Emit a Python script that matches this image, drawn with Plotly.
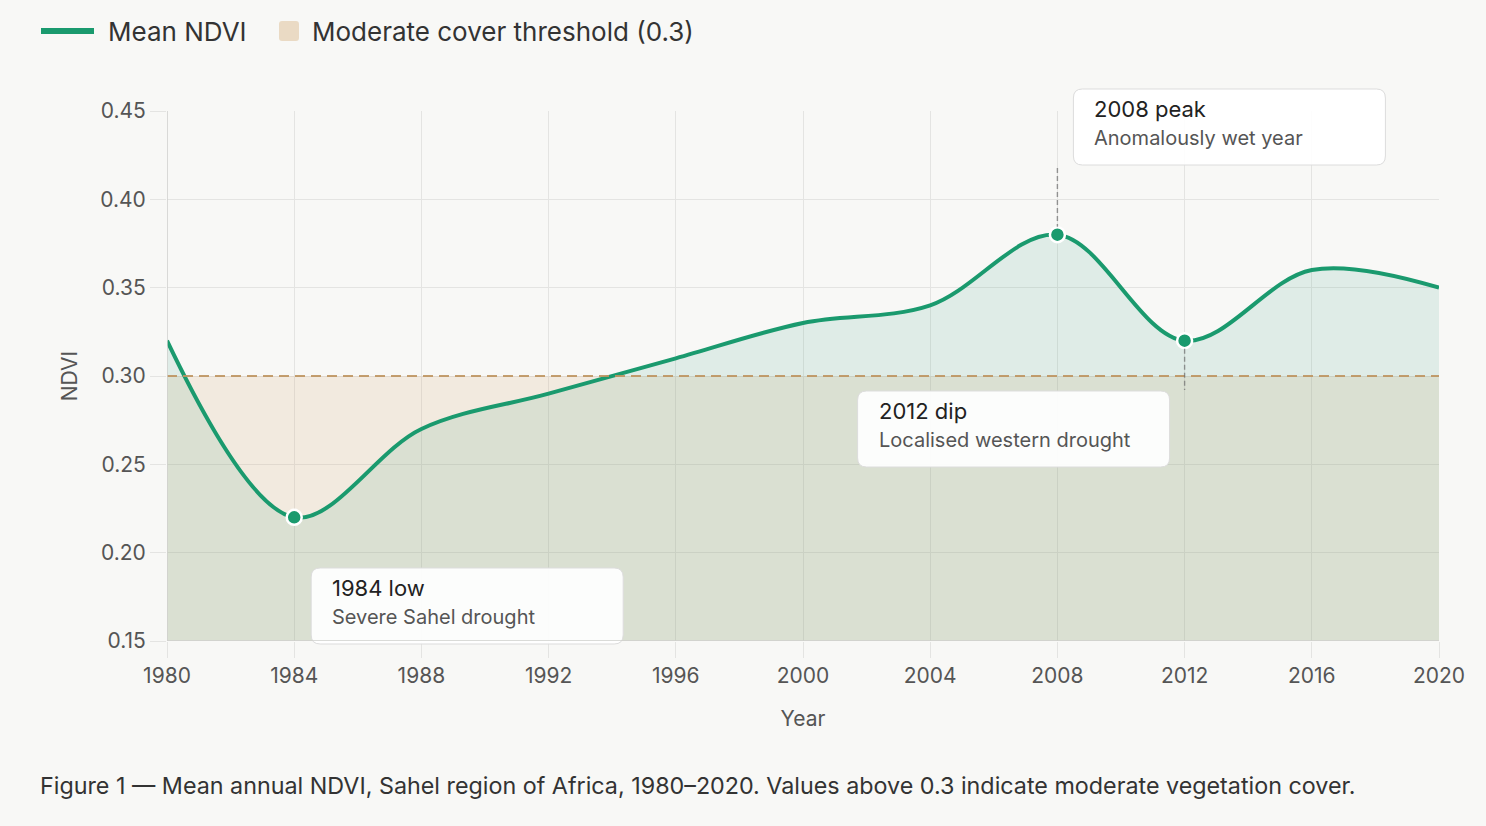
import plotly.graph_objects as go

# ---- data ----
years = [1980, 1984, 1988, 1992, 1996, 2000, 2004, 2008, 2012, 2016, 2020]
ndvi = [0.32, 0.22, 0.27, 0.29, 0.31, 0.33, 0.34, 0.38, 0.32, 0.36, 0.35]
threshold = 0.3
hl_years = [1984, 2008, 2012]
hl_values = [0.22, 0.38, 0.32]
hl_titles = ["1984 low", "2008 peak", "2012 dip"]
hl_subs = ["Severe Sahel drought", "Anomalously wet year", "Localised western drought"]
x_ticks = list(range(1980, 2021, 4))
y_ticks = [0.15, 0.20, 0.25, 0.30, 0.35, 0.40, 0.45]

# ---- layout geometry (pixels) ----
W, H = 1486, 826
L, R, T, B = 167, 47, 111, 185
PW, PH = W - L - R, H - T - B
XMIN, XMAX, YMIN, YMAX = 1980, 2020, 0.15, 0.45

def px_x(v):
    return L + (v - XMIN) / (XMAX - XMIN) * PW

def px_y(v):
    return T + (YMAX - v) / (YMAX - YMIN) * PH

def paper_x(p):
    return (p - L) / PW

def paper_y(p):
    return (H - B - p) / PH

GREEN = "#1a9a6e"
BG = "#f8f8f6"
FONT = "Inter"

fig = go.Figure()

# threshold band fill (below 0.3)
fig.add_trace(go.Scatter(
    x=[XMIN, XMAX], y=[threshold, threshold], mode="lines",
    line=dict(width=0), fill="tozeroy", fillcolor="rgba(215,165,115,0.17)",
    showlegend=False, hoverinfo="skip"))

# NDVI line with fill
fig.add_trace(go.Scatter(
    x=years, y=ndvi, mode="lines",
    line=dict(color=GREEN, width=4, shape="spline", smoothing=1),
    fill="tozeroy", fillcolor="rgba(26,150,110,0.11)",
    showlegend=False))

# threshold dashed line
fig.add_shape(type="line", xref="x", yref="y", x0=XMIN, x1=XMAX, y0=threshold, y1=threshold,
              line=dict(color="rgba(190,148,95,0.9)", width=2.2, dash="10px,6px"), layer="above")

shapes = []
annotations = []

# connectors + boxes
box_w, box_h = 312, 76
box_specs = {
    1984: dict(left=px_x(1984) + 17, top=568, c0=px_y(0.22) + 8, c1=567),
    2008: dict(left=px_x(2008) + 16, top=89, c0=168, c1=px_y(0.38) - 8),
    2012: dict(left=px_x(2012) - 327, top=391, c0=px_y(0.32) + 8, c1=390),
}

def rounded_rect(x0, y0, x1, y1, r):
    # pixel coords -> paper path
    def P(x, y):
        return f"{paper_x(x):.5f},{paper_y(y):.5f}"
    return (f"M {P(x0 + r, y0)} L {P(x1 - r, y0)} Q {P(x1, y0)} {P(x1, y0 + r)} "
            f"L {P(x1, y1 - r)} Q {P(x1, y1)} {P(x1 - r, y1)} L {P(x0 + r, y1)} "
            f"Q {P(x0, y1)} {P(x0, y1 - r)} L {P(x0, y0 + r)} Q {P(x0, y0)} {P(x0 + r, y0)} Z")

for yr, val, t1, t2 in zip(hl_years, hl_values, hl_titles, hl_subs):
    s = box_specs[yr]
    xp = px_x(yr)
    shapes.append(dict(type="line", xref="paper", yref="paper",
                       x0=paper_x(xp), x1=paper_x(xp), y0=paper_y(s["c0"]), y1=paper_y(s["c1"]),
                       line=dict(color="rgba(110,110,110,0.7)", width=1.4, dash="5px,3px"),
                       layer="above"))
    x0, y0 = s["left"], s["top"]
    shapes.append(dict(type="path", xref="paper", yref="paper",
                       path=rounded_rect(x0, y0, x0 + box_w, y0 + box_h, 9),
                       fillcolor="rgba(255,255,255,0.92)", line=dict(color="#dcdcdc", width=1),
                       layer="above"))
    annotations.append(dict(xref="paper", yref="paper", x=paper_x(x0 + 19), y=paper_y(y0 + 20),
                            text=t1, showarrow=False, xanchor="left", yanchor="middle",
                            font=dict(family=FONT, size=22, color="#222222")))
    annotations.append(dict(xref="paper", yref="paper", x=paper_x(x0 + 19), y=paper_y(y0 + 49),
                            text=t2, showarrow=False, xanchor="left", yanchor="middle",
                            font=dict(family=FONT, size=20, color="#555555")))

# highlighted points
fig.add_trace(go.Scatter(
    x=hl_years, y=hl_values, mode="markers",
    marker=dict(color=GREEN, size=15, line=dict(color="white", width=2.5)),
    showlegend=False, cliponaxis=False))

# manual legend
shapes.append(dict(type="line", xref="paper", yref="paper",
                   x0=paper_x(41), x1=paper_x(94), y0=paper_y(31), y1=paper_y(31),
                   line=dict(color=GREEN, width=6)))
shapes.append(dict(type="path", xref="paper", yref="paper",
                   path=rounded_rect(279, 21, 299, 41, 3),
                   fillcolor="#eadac4", line=dict(width=0)))
annotations.append(dict(xref="paper", yref="paper", x=paper_x(106), y=paper_y(31),
                        text="Mean NDVI", showarrow=False, xanchor="left", yanchor="middle",
                        font=dict(family=FONT, size=26, color="#333333")))
annotations.append(dict(xref="paper", yref="paper", x=paper_x(310), y=paper_y(31),
                        text="Moderate cover threshold (0.3)", showarrow=False,
                        xanchor="left", yanchor="middle",
                        font=dict(family=FONT, size=26, color="#333333")))

# caption
annotations.append(dict(xref="paper", yref="paper", x=paper_x(38), y=paper_y(785),
                        text="Figure 1 — Mean annual NDVI, Sahel region of Africa, 1980–2020. "
                             "Values above 0.3 indicate moderate vegetation cover.",
                        showarrow=False, xanchor="left", yanchor="middle",
                        font=dict(family=FONT, size=23.3, color="#333333")))

fig.update_layout(
    width=W, height=H,
    margin=dict(l=L, r=R, t=T, b=B, pad=0),
    paper_bgcolor=BG, plot_bgcolor=BG,
    showlegend=False,
    shapes=shapes, annotations=annotations,
    font=dict(family=FONT, color="#555555"),
)
fig.update_xaxes(
    range=[XMIN, XMAX], tickvals=x_ticks, ticktext=[str(v) for v in x_ticks],
    showgrid=True, gridcolor="#e4e4e2", gridwidth=1.3,
    zeroline=False, showline=False,
    ticks="outside", ticklen=16, tickcolor="#e4e4e2", tickwidth=1.3,
    tickfont=dict(family=FONT, size=21, color="#555555"),
    title=dict(text="Year", font=dict(family=FONT, size=21, color="#555555"), standoff=24),
)
fig.update_yaxes(
    range=[YMIN, YMAX], tickvals=y_ticks, ticktext=[f"{v:.2f}" for v in y_ticks],
    showgrid=True, gridcolor="#e4e4e2", gridwidth=1.3,
    zeroline=False, showline=False,
    ticks="outside", ticklen=16, tickcolor="#e4e4e2", tickwidth=1.3,
    tickfont=dict(family=FONT, size=21, color="#555555"),
    title=dict(text="NDVI", font=dict(family=FONT, size=21, color="#555555"), standoff=16),
)
# left axis line (1980) and baseline
fig.add_shape(type="line", xref="x", yref="paper", x0=XMIN, x1=XMIN, y0=0, y1=1,
              line=dict(color="#cfcfcc", width=1.5))
fig.add_shape(type="line", xref="paper", yref="y", x0=0, x1=1, y0=YMIN, y1=YMIN,
              line=dict(color="#cfcfcc", width=1.5))

fig.write_html("out.html")
